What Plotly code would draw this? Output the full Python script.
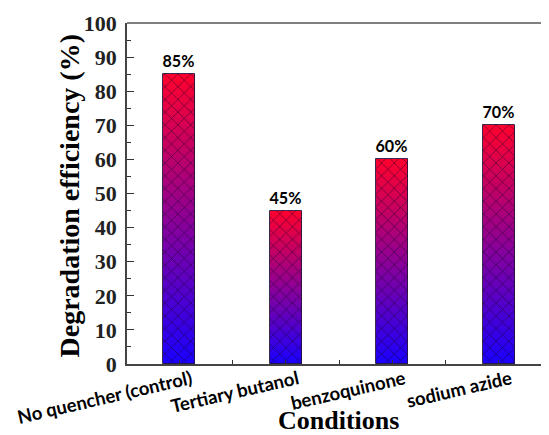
import plotly.graph_objects as go

categories = ["No quencher (control)", "Tertiary butanol", "benzoquinone", "sodium azide"]
values = [85, 45, 60, 70]
labels = ["85%", "45%", "60%", "70%"]
y_ticks = [0, 10, 20, 30, 40, 50, 60, 70, 80, 90, 100]

# gradient colours (bottom -> top of each bar)
c_bottom = (25, 0, 255)
c_top = (255, 0, 45)
N = 60

fig = go.Figure()
xs = list(range(len(categories)))
BW = 0.30

# gradient: overlapping bars drawn from tallest (top colour) down to shortest (bottom colour)
for k in range(N):
    frac = (N - k) / N
    t = (N - k - 0.5) / N
    col = "rgb(%d,%d,%d)" % tuple(round(c_bottom[i] + (c_top[i] - c_bottom[i]) * t) for i in range(3))
    fig.add_trace(go.Bar(
        x=xs, y=[v * frac for v in values], base=0, width=BW,
        marker=dict(color=col, line=dict(width=0)),
        hoverinfo="skip", showlegend=False,
    ))

# crosshatch overlay + outline + labels
fig.add_trace(go.Bar(
    x=xs, y=values, width=BW,
    marker=dict(color="rgba(0,0,0,0)",
                line=dict(color="rgba(40,20,60,0.9)", width=1),
                pattern=dict(shape="x", fgcolor="rgba(20,0,40,0.75)", bgcolor="rgba(0,0,0,0)",
                             size=9, solidity=0.13, fillmode="replace")),
    text=labels, textposition="outside", cliponaxis=False,
    textfont=dict(family="Lato", size=17, color="black", weight="bold"),
    showlegend=False,
))

fig.update_layout(
    width=541, height=427,
    margin=dict(l=119, r=0, t=15, b=71, autoexpand=False),
    paper_bgcolor="white", plot_bgcolor="white",
    barmode="overlay",
    bargap=0,
    xaxis=dict(
        range=[-0.49, 3.47], automargin=False,
        tickmode="array", tickvals=xs, ticktext=categories,
        tickangle=-13,
        ticks="inside", ticklen=4, tickcolor="#333", tickwidth=1,
        minor=dict(ticks="inside", ticklen=4, tickcolor="#333", dtick=1, tick0=0.5, showgrid=False),
        tickfont=dict(family="Lato", size=18.5, color="black", weight="bold"),
        ticklabelstandoff=-4, ticklabelshift=12,
        showline=True, linecolor="#444", linewidth=1.5,
        mirror=False, showgrid=False, zeroline=False,
    ),
    yaxis=dict(
        range=[0, 100], automargin=False,
        tickmode="array", tickvals=y_ticks,
        ticks="inside", ticklen=7, tickcolor="#333", tickwidth=1,
        minor=dict(ticks="inside", ticklen=4, tickcolor="#333", dtick=5, tick0=0, showgrid=False),
        tickfont=dict(family="Liberation Serif", size=22, color="#222", weight="bold"),
        ticklabelstandoff=4,
        showline=True, linecolor="#444", linewidth=1.5,
        showgrid=False, zeroline=False,
    ),
    annotations=[
        dict(text="Degradation efficiency (%)", textangle=-90,
             xref="paper", yref="paper", x=0, y=0.5, xanchor="center", yanchor="middle",
             xshift=-58, yshift=-3, showarrow=False,
             font=dict(family="Liberation Serif", size=28, color="black", weight="bold")),
        dict(text="Conditions",
             xref="paper", yref="paper", x=0.5, y=0, xanchor="center", yanchor="bottom",
             yshift=-73, showarrow=False,
             font=dict(family="Liberation Serif", size=26, color="black", weight="bold")),
    ],
    shapes=[dict(type="line", xref="paper", yref="paper", x0=0, x1=1, y0=1, y1=1,
                 line=dict(color="#555", width=1.5))],
)

fig.write_html("out.html")
